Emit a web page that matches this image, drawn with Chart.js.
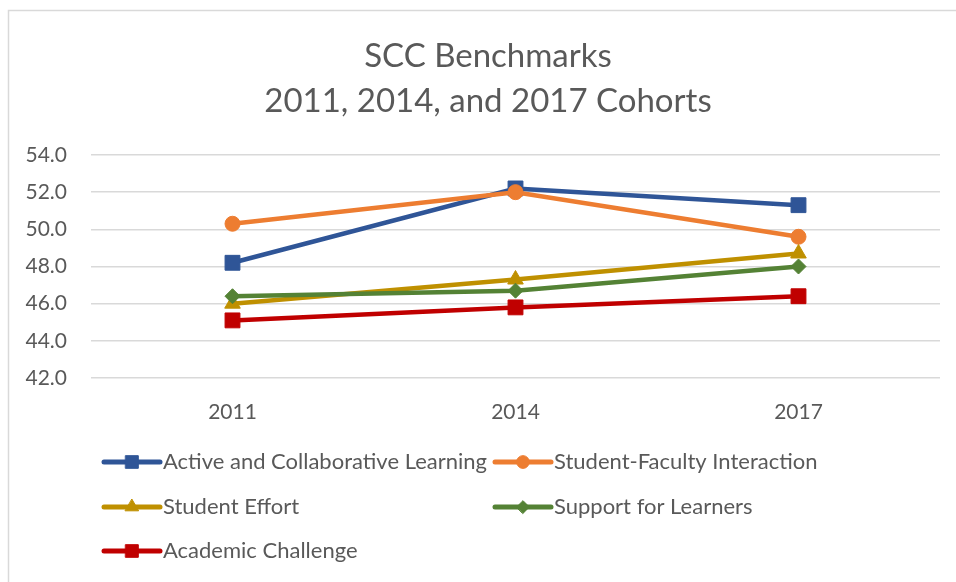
<!DOCTYPE html>
<html>
<head>
<meta charset="utf-8">
<title>SCC Benchmarks</title>
<script src="https://cdn.jsdelivr.net/npm/chart.js@4.4.1/dist/chart.umd.min.js"></script>
<style>
  html, body { margin: 0; padding: 0; background: #fff; }
  #wrap { width: 956px; height: 582px; position: relative; }
</style>
</head>
<body>
<div id="wrap"><canvas id="chart" width="956" height="582"></canvas></div>
<script>
// data
const years = ['2011', '2014', '2017'];
const activeLearning = [48.2, 52.2, 51.3];
const facultyInteraction = [50.3, 52.0, 49.6];
const studentEffort = [46.0, 47.3, 48.7];
const supportLearners = [46.4, 46.7, 48.0];
const academicChallenge = [45.1, 45.8, 46.4];
const seriesNames = [
    'Active and Collaborative Learning',
    'Student-Faculty Interaction',
    'Student Effort',
    'Support for Learners',
    'Academic Challenge'
];
const titleLines = ['SCC Benchmarks', '2011, 2014, and 2017 Cohorts'];
const yTicks = [42, 44, 46, 48, 50, 52, 54];

const FONT = 'Lato, "Open Sans", sans-serif';
const TEXT = '#595959';
const GRID = '#d9d9d9';

const styles = [
    { color: '#2f5597', point: 'rect', radius: 10.5 },
    { color: '#ed7d31', point: 'circle', radius: 7.5 },
    { color: '#bf9000', point: 'triangle', radius: 9 },
    { color: '#548235', point: 'rectRot', radius: 7.5 },
    { color: '#c00000', point: 'rect', radius: 10.5 }
];

const seriesData = [activeLearning, facultyInteraction, studentEffort, supportLearners, academicChallenge];

const datasets = seriesData.map((vals, i) => ({
    label: seriesNames[i],
    data: vals,
    borderColor: styles[i].color,
    backgroundColor: styles[i].color,
    borderWidth: 4.5,
    pointStyle: styles[i].point,
    pointRadius: styles[i].radius,
    pointBorderWidth: 1,
    pointBorderColor: styles[i].color,
    pointBackgroundColor: styles[i].color,
    tension: 0,
    order: seriesNames.length - i   // later series on top, like Excel
}));

// outer frame, title and legend in two columns
const framePlugin = {
    id: 'frame',
    afterDraw(chart) {
        const ctx = chart.ctx;
        ctx.save();
        ctx.strokeStyle = GRID;
        ctx.lineWidth = 1.5;
        ctx.strokeRect(8.5, 10.5, 1200, 1200);

        // title
        ctx.fillStyle = TEXT;
        ctx.font = '33px ' + FONT;
        ctx.textAlign = 'center';
        ctx.textBaseline = 'middle';
        ctx.fillText(titleLines[0], 488, 56);
        ctx.fillText(titleLines[1], 488, 101);

        // legend
        const cols = [104, 495];
        const rows = [462, 507, 551];
        ctx.font = '22px ' + FONT;
        ctx.textAlign = 'left';
        seriesNames.forEach((name, i) => {
            const x = cols[i % 2];
            const y = rows[Math.floor(i / 2)];
            const st = styles[i];
            ctx.strokeStyle = st.color;
            ctx.lineWidth = 5;
            ctx.lineCap = 'round';
            ctx.beginPath();
            ctx.moveTo(x, y);
            ctx.lineTo(x + 56, y);
            ctx.stroke();
            ctx.fillStyle = st.color;
            ctx.lineWidth = 1;
            Chart.helpers.drawPoint(ctx, {
                pointStyle: st.point,
                radius: st.radius * 0.85,
                borderWidth: 1
            }, x + 28, y);
            ctx.fillStyle = TEXT;
            ctx.fillText(name, x + 59, y);
        });
        ctx.restore();
    }
};

new Chart(document.getElementById('chart'), {
    type: 'line',
    data: { labels: years, datasets: datasets },
    plugins: [framePlugin],
    options: {
        responsive: false,
        animation: false,
        layout: { padding: { top: 155, right: 16, bottom: 160, left: 0 } },
        plugins: {
            legend: { display: false },
            tooltip: { enabled: false },
            title: { display: false }
        },
        scales: {
            x: {
                offset: true,
                grid: { display: false },
                border: { display: false },
                ticks: { color: TEXT, font: { family: FONT, size: 21 }, padding: 14 },
                afterFit(scale) { scale.height = 44; }
            },
            y: {
                min: 42,
                max: 54,
                afterBuildTicks(scale) { scale.ticks = yTicks.map(v => ({ value: v })); },
                grid: { color: GRID, lineWidth: 1.5, drawTicks: false },
                border: { display: false },
                ticks: {
                    color: TEXT,
                    font: { family: FONT, size: 21 },
                    padding: 24,
                    callback: v => Number(v).toFixed(1)
                },
                afterFit(scale) { scale.width = 91; }
            }
        }
    }
});
</script>
</body>
</html>
